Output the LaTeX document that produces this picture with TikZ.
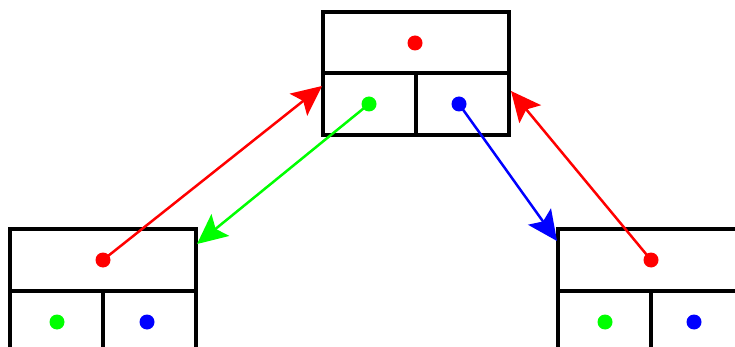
\documentclass[tikz,border=0pt]{standalone}
\usetikzlibrary{arrows.meta}
\begin{document}
\begin{tikzpicture}[x=1pt,y=-1pt,
  box/.style={draw=black,line width=3.5pt},
  dot/.style={circle,inner sep=0pt,minimum size=15pt},
  link/.style={line width=2.5pt,-{Stealth[length=30pt,width=28pt,inset=6pt]}}]
\useasboundingbox (0,0) rectangle (735,347);
\begin{scope}
\clip (0,0) rectangle (735,347);
% top box
\draw[box] (323,12) rectangle (509,135);
\draw[box] (323,73) -- (509,73);
\draw[box] (416,73) -- (416,135);
% left box
\draw[box] (10,229) rectangle (196,360);
\draw[box] (10,291) -- (196,291);
\draw[box] (103,291) -- (103,360);
% right box
\draw[box] (558,229) rectangle (750,360);
\draw[box] (558,291) -- (750,291);
\draw[box] (651,291) -- (651,360);
\end{scope}
% dots
\node[dot,fill=red] (tr) at (415,43) {};
\node[dot,fill=green] (tg) at (369,104) {};
\node[dot,fill=blue] (tb) at (459,104) {};
\node[dot,fill=red] (lr) at (103,260) {};
\node[dot,fill=green] (lg) at (57,322) {};
\node[dot,fill=blue] (lb) at (147,322) {};
\node[dot,fill=red] (rr) at (651,260) {};
\node[dot,fill=green] (rg) at (605,322) {};
\node[dot,fill=blue] (rb) at (694,322) {};
% targets
\coordinate (tL) at (322,86);
\coordinate (tR) at (511,91);
\coordinate (lT) at (197,244);
\coordinate (rT) at (557,241);
% arrows
\draw[link,red] (lr.center) -- (tL);
\draw[link,red] (rr.center) -- (tR);
\draw[link,green] (tg.center) -- (lT);
\draw[link,blue] (tb.center) -- (rT);
\end{tikzpicture}
\end{document}
